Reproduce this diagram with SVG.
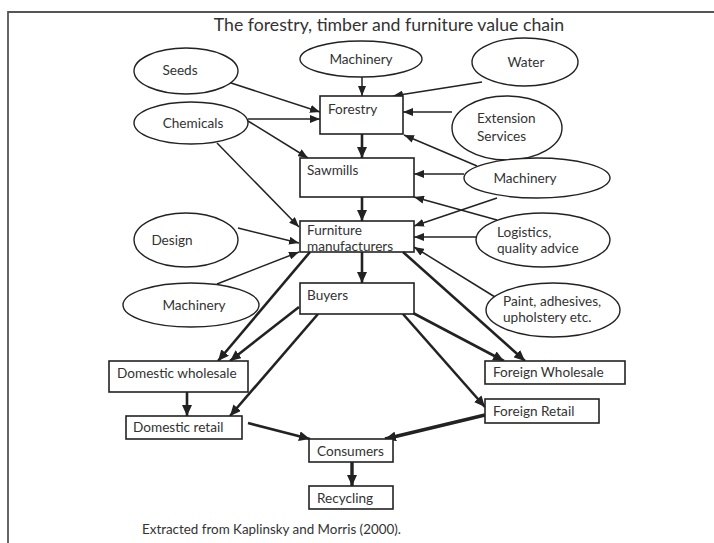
<svg xmlns="http://www.w3.org/2000/svg" width="714" height="543" viewBox="0 0 714 543">
  <style>
    .frame { fill: none; stroke: #555; stroke-width: 1.8; }
    .box { fill: #fff; stroke: #222; stroke-width: 1.6; }
    .oval { fill: #fff; stroke: #222; stroke-width: 1.4; }
    text { font-family: Lato, "Open Sans", "Liberation Sans", sans-serif; fill: #333; }
    .lbl { font-size: 13.6px; }
    .olbl { font-size: 13.6px; }
    .mid { text-anchor: middle; }
    .title { font-size: 17.7px; text-anchor: middle; }
    .note { font-size: 13.4px; }
    .thin { stroke: #222; stroke-width: 1.5; fill: none; marker-end: url(#head); }
    .thick { stroke: #222; stroke-width: 2.6; fill: none; marker-end: url(#headBig); }
    .heavy { stroke: #222; stroke-width: 3.4; fill: none; marker-end: url(#headBig); }
  </style>
  <defs>
    <marker id="head" markerUnits="userSpaceOnUse" markerWidth="10" markerHeight="8" refX="10" refY="4" orient="auto">
      <path d="M0,0 L10,4 L0,8 z" fill="#222"/>
    </marker>
    <marker id="headBig" markerUnits="userSpaceOnUse" markerWidth="11" markerHeight="10" refX="11" refY="5" orient="auto">
      <path d="M0,0 L11,5 L0,10 z" fill="#222"/>
    </marker>
  </defs>

  <rect width="714" height="543" fill="#fff"/>
  <!-- outer frame: top and left edges -->
  <path class="frame" d="M8,543 L8,12 L714,12"/>

  <text class="title" x="389" y="31">The forestry, timber and furniture value chain</text>

  <!-- connectors -->
  <g id="connectors">
    <line class="thin" x1="228" y1="82" x2="320" y2="112"/>
    <line class="thin" x1="362" y1="77" x2="362" y2="96"/>
    <line class="thin" x1="482" y1="82" x2="393" y2="96"/>
    <line class="thin" x1="248" y1="119" x2="320" y2="119"/>
    <line class="thin" x1="452" y1="112" x2="403" y2="112"/>
    <line class="thin" x1="248" y1="121" x2="308" y2="158"/>
    <line class="thin" x1="217" y1="143" x2="299" y2="227"/>
    <line class="thick" x1="362" y1="134" x2="362" y2="158"/>
    <line class="thin" x1="477" y1="166" x2="404" y2="135"/>
    <line class="thin" x1="464" y1="174" x2="414" y2="174"/>
    <line class="thin" x1="497" y1="220" x2="414" y2="197"/>
    <line class="thick" x1="362" y1="197" x2="362" y2="221"/>
    <line class="thin" x1="497" y1="198" x2="414" y2="226"/>
    <line class="thin" x1="238" y1="228" x2="299" y2="243"/>
    <line class="thin" x1="476" y1="237" x2="414" y2="237"/>
    <line class="thin" x1="217" y1="284" x2="299" y2="252"/>
    <line class="thin" x1="495" y1="297" x2="414" y2="247"/>
    <line class="thick" x1="362" y1="252" x2="362" y2="283"/>
    <line class="thick" x1="310" y1="252" x2="218" y2="361"/>
    <line class="thick" x1="299" y1="307" x2="230" y2="361"/>
    <line class="thick" x1="318" y1="314" x2="230" y2="416"/>
    <line class="thick" x1="403" y1="252" x2="525" y2="361"/>
    <line class="thick" x1="413" y1="313" x2="504" y2="361"/>
    <line class="thick" x1="403" y1="314" x2="485" y2="407"/>
    <line class="thick" x1="187" y1="392" x2="187" y2="416"/>
    <line class="thick" x1="248" y1="423" x2="310" y2="439"/>
    <line class="heavy" x1="485" y1="415" x2="385" y2="439"/>
    <line class="heavy" x1="352" y1="462" x2="352" y2="486"/>
  </g>

  <!-- input ovals -->
  <g id="seeds"><ellipse class="oval" cx="186" cy="71" rx="52" ry="23"/><text class="olbl mid" x="180" y="75">Seeds</text></g>
  <g id="machinery-top"><ellipse class="oval" cx="361" cy="59" rx="61" ry="18"/><text class="olbl mid" x="361" y="64">Machinery</text></g>
  <g id="water"><ellipse class="oval" cx="525" cy="62" rx="53" ry="24"/><text class="olbl mid" x="526" y="67">Water</text></g>
  <g id="chemicals"><ellipse class="oval" cx="191" cy="123" rx="57" ry="21"/><text class="olbl mid" x="193" y="128">Chemicals</text></g>
  <g id="extension"><ellipse class="oval" cx="507" cy="128" rx="55" ry="32"/><text class="olbl" x="477" y="123">Extension</text><text class="olbl" x="477" y="141">Services</text></g>
  <g id="machinery-right"><ellipse class="oval" cx="537" cy="178" rx="73" ry="20"/><text class="olbl mid" x="525" y="183">Machinery</text></g>
  <g id="logistics"><ellipse class="oval" cx="543" cy="240" rx="67" ry="27"/><text class="olbl" x="497" y="237">Logistics,</text><text class="olbl" x="497" y="253">quality advice</text></g>
  <g id="design"><ellipse class="oval" cx="186" cy="240" rx="52" ry="27"/><text class="olbl mid" x="172" y="245">Design</text></g>
  <g id="machinery-left"><ellipse class="oval" cx="191" cy="305" rx="68" ry="22"/><text class="olbl mid" x="194" y="310">Machinery</text></g>
  <g id="paint"><ellipse class="oval" cx="553" cy="310" rx="67" ry="27"/><text class="olbl" x="503" y="306">Paint, adhesives,</text><text class="olbl" x="503" y="322">upholstery etc.</text></g>

  <!-- chain stages -->
  <g id="forestry"><rect class="box" x="320" y="96" width="83" height="38"/><text class="lbl" x="328" y="114">Forestry</text></g>
  <g id="sawmills"><rect class="box" x="300" y="158" width="114" height="39"/><text class="lbl" x="307" y="175">Sawmills</text></g>
  <g id="furniture"><text class="lbl" x="307" y="235">Furniture</text><text class="lbl" x="307" y="251">manufacturers</text><rect class="box" x="300" y="221" width="114" height="31" style="fill:none"/></g>
  <g id="buyers"><rect class="box" x="300" y="283" width="114" height="31"/><text class="lbl" x="307" y="300">Buyers</text></g>
  <g id="domestic-wholesale"><rect class="box" x="109" y="361" width="139" height="31"/><text class="lbl" x="117" y="378">Domestic wholesale</text></g>
  <g id="domestic-retail"><rect class="box" x="126" y="416" width="116" height="23"/><text class="lbl" x="133" y="432">Domestic retail</text></g>
  <g id="foreign-wholesale"><rect class="box" x="485" y="361" width="140" height="23"/><text class="lbl" x="493" y="377">Foreign Wholesale</text></g>
  <g id="foreign-retail"><rect class="box" x="485" y="399" width="114" height="24"/><text class="lbl" x="493" y="416">Foreign Retail</text></g>
  <g id="consumers"><rect class="box" x="309" y="439" width="84" height="23"/><text class="lbl" x="317" y="456">Consumers</text></g>
  <g id="recycling"><rect class="box" x="309" y="486" width="84" height="23"/><text class="lbl" x="317" y="503">Recycling</text></g>

  <text class="note" x="142" y="534">Extracted from Kaplinsky and Morris (2000).</text>
</svg>
